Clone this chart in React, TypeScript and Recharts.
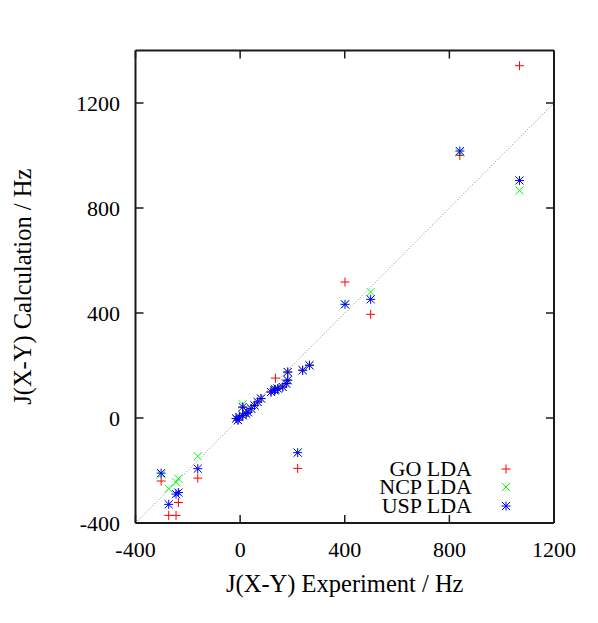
import React from 'react';
import {
  ScatterChart,
  Scatter,
  XAxis,
  YAxis,
  ReferenceLine,
  Legend,
} from 'recharts';

const FONT = '"Liberation Serif", "DejaVu Serif", serif';

// experimental couplings (Hz) and the three calculated sets
const expValues = [-302, -273, -245, -236, -162, -15, -8, -3, 10, 23, 10, 30, 42, 55, 67, 80, 118, 131, 135, 144, 163, 176, 182, 182, 239, 265, 220, 401, 499, 840, 1068];
const goLda = [-240, -371, -371, -322, -229, -2, -8, 4, 10, 17, 40, 22, 36, 48, 61, 74, 99, 106, 152, 112, 118, 131, 144, 175, 182, 201, -192, 518, 395, 1000, 1342];
const ncpLda = [-215, -269, -245, -231, -146, -2, -8, 4, 10, 17, 52, 22, 36, 48, 61, 74, 99, 106, 110, 112, 118, 131, 144, 175, 182, 201, -132, 433, 480, 1012, 867];
const uspLda = [-210, -329, -290, -284, -193, -2, -8, 4, 10, 17, 42, 22, 36, 48, 61, 74, 99, 106, 108, 112, 118, 131, 144, 175, 182, 201, -132, 433, 452, 1017, 905];

const xTicks = [-400, 0, 400, 800, 1200];
const yTicks = [-400, 0, 400, 800, 1200];

const COLORS = {
  go: '#ff0000',
  ncp: '#00ff00',
  usp: '#0000ff',
  frame: '#1a1a1a',
  diag: '#888888',
};

const toPoints = (ys: number[]) => expValues.map((x, i) => ({ x, y: ys[i] }));

const R = 4.5;

function Mark({ cx, cy, kind, color }: { cx: number; cy: number; kind: string; color: string }) {
  const plus = (
    <>
      <line x1={cx - R} y1={cy} x2={cx + R} y2={cy} stroke={color} strokeWidth={1} />
      <line x1={cx} y1={cy - R} x2={cx} y2={cy + R} stroke={color} strokeWidth={1} />
    </>
  );
  const d = R * 0.9;
  const cross = (
    <>
      <line x1={cx - d} y1={cy - d} x2={cx + d} y2={cy + d} stroke={color} strokeWidth={1} />
      <line x1={cx - d} y1={cy + d} x2={cx + d} y2={cy - d} stroke={color} strokeWidth={1} />
    </>
  );
  return (
    <g>
      {kind !== 'x' && plus}
      {kind !== '+' && cross}
    </g>
  );
}

const shapeFor = (kind: string, color: string) => (props: any) =>
  <Mark cx={props.cx} cy={props.cy} kind={kind} color={color} />;

const legendRows = [
  { label: 'GO LDA', kind: '+', color: COLORS.go },
  { label: 'NCP LDA', kind: 'x', color: COLORS.ncp },
  { label: 'USP LDA', kind: '*', color: COLORS.usp },
];

function LegendBox() {
  return (
    <div style={{ fontFamily: FONT, fontSize: 22, color: '#000' }}>
      {legendRows.map((r) => (
        <div key={r.label} style={{ display: 'flex', alignItems: 'center', height: 18.5 }}>
          <span style={{ width: 202, textAlign: 'right', whiteSpace: 'nowrap', lineHeight: '18.5px' }}>{r.label}</span>
          <svg width={16} height={16} style={{ marginLeft: 26 }}>
            <Mark cx={8} cy={8} kind={r.kind} color={r.color} />
          </svg>
        </div>
      ))}
    </div>
  );
}

const tickStyle = { fontFamily: FONT, fontSize: 22, fill: '#000' };

export default function App() {
  return (
    <div style={{ position: 'absolute', left: 0, top: 0, background: '#fff' }}>
      <ScatterChart width={598} height={623} margin={{ top: 0, right: 0, bottom: 0, left: 0 }}>
        <XAxis
          xAxisId="bottom"
          type="number"
          dataKey="x"
          domain={[-400, 1200]}
          ticks={xTicks}
          orientation="bottom"
          height={100}
          tickSize={-8}
          tickMargin={26}
          tick={tickStyle}
          axisLine={{ stroke: COLORS.frame, strokeWidth: 2 }}
          tickLine={{ stroke: COLORS.frame, strokeWidth: 1.5 }}
          allowDataOverflow
          label={{
            content: ({ viewBox }: any) => (
              <text
                x={viewBox.x + viewBox.width / 2}
                y={viewBox.y + 69}
                textAnchor="middle"
                style={{ fontFamily: FONT, fontSize: 24.5 }}
                fill="#000"
              >
                J(X-Y) Experiment / Hz
              </text>
            ),
          }}
        />
        <XAxis
          xAxisId="top"
          type="number"
          dataKey="x"
          domain={[-400, 1200]}
          ticks={xTicks}
          orientation="top"
          height={50.5}
          tickSize={-8}
          tickFormatter={() => ''}
          axisLine={{ stroke: COLORS.frame, strokeWidth: 2 }}
          tickLine={{ stroke: COLORS.frame, strokeWidth: 1.5 }}
          allowDataOverflow
        />
        <YAxis
          yAxisId="left"
          type="number"
          dataKey="y"
          domain={[-400, 1400]}
          ticks={yTicks}
          orientation="left"
          width={135.5}
          tickSize={-8}
          tickMargin={23.5}
          tick={tickStyle}
          axisLine={{ stroke: COLORS.frame, strokeWidth: 2 }}
          tickLine={{ stroke: COLORS.frame, strokeWidth: 1.5 }}
          allowDataOverflow
          label={{
            content: ({ viewBox }: any) => {
              const cx = viewBox.x + 22;
              const cy = viewBox.y + viewBox.height / 2;
              return (
                <text
                  x={cx}
                  y={cy}
                  transform={`rotate(-90 ${cx} ${cy})`}
                  textAnchor="middle"
                  dominantBaseline="central"
                  style={{ fontFamily: FONT, fontSize: 24.5 }}
                  fill="#000"
                >
                  J(X-Y) Calculation / Hz
                </text>
              );
            },
          }}
        />
        <YAxis
          yAxisId="right"
          type="number"
          dataKey="y"
          domain={[-400, 1400]}
          ticks={yTicks}
          orientation="right"
          width={44}
          tickSize={-8}
          tickFormatter={() => ''}
          axisLine={{ stroke: COLORS.frame, strokeWidth: 2 }}
          tickLine={{ stroke: COLORS.frame, strokeWidth: 1.5 }}
          allowDataOverflow
        />
        <ReferenceLine
          xAxisId="bottom"
          yAxisId="left"
          segment={[{ x: -400, y: -400 }, { x: 1200, y: 1200 }]}
          stroke={COLORS.diag}
          strokeWidth={1}
          strokeDasharray="1 2"
          ifOverflow="visible"
        />
        <Scatter
          name="GO LDA"
          xAxisId="bottom"
          yAxisId="left"
          data={toPoints(goLda)}
          shape={shapeFor('+', COLORS.go)}
          isAnimationActive={false}
        />
        <Scatter
          name="NCP LDA"
          xAxisId="bottom"
          yAxisId="left"
          data={toPoints(ncpLda)}
          shape={shapeFor('x', COLORS.ncp)}
          isAnimationActive={false}
        />
        <Scatter
          name="USP LDA"
          xAxisId="bottom"
          yAxisId="left"
          data={toPoints(uspLda)}
          shape={shapeFor('*', COLORS.usp)}
          isAnimationActive={false}
        />
        <Legend
          layout="horizontal"
          verticalAlign="middle"
          align="center"
          content={() => <LegendBox />}
          wrapperStyle={{ position: 'absolute', left: 270, top: 459.5, width: 260, height: 56 }}
        />
      </ScatterChart>
    </div>
  );
}
